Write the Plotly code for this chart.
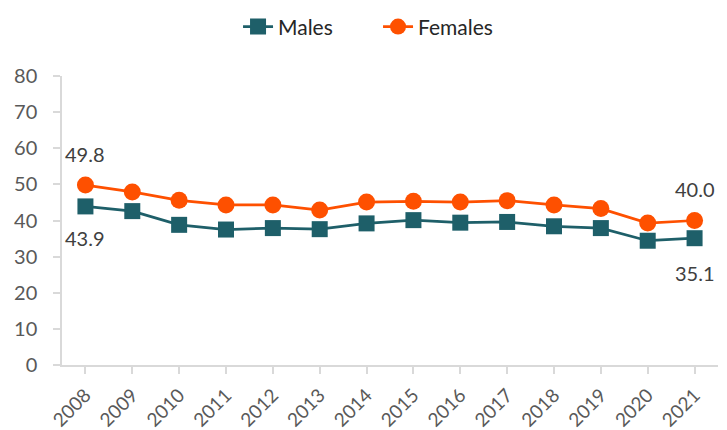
import plotly.graph_objects as go

years = ["2008", "2009", "2010", "2011", "2012", "2013", "2014",
         "2015", "2016", "2017", "2018", "2019", "2020", "2021"]
males = [43.9, 42.6, 38.8, 37.5, 37.9, 37.6, 39.2, 40.1, 39.4, 39.6, 38.4, 37.9, 34.4, 35.1]
females = [49.8, 47.9, 45.6, 44.3, 44.3, 42.9, 45.1, 45.3, 45.1, 45.5, 44.3, 43.3, 39.3, 40.0]
y_ticks = [0, 10, 20, 30, 40, 50, 60, 70, 80]

MALE_COLOR = "#1E5F69"
FEMALE_COLOR = "#FE5000"
FONT = "Lato"
TEXT_COLOR = "#595959"
AXIS_COLOR = "#D9D9D9"

fig = go.Figure()
fig.add_trace(go.Scatter(
    x=years, y=males, name="Males", mode="lines+markers",
    line=dict(color=MALE_COLOR, width=2.75),
    marker=dict(symbol="square", size=16, color=MALE_COLOR),
))
fig.add_trace(go.Scatter(
    x=years, y=females, name="Females", mode="lines+markers",
    line=dict(color=FEMALE_COLOR, width=2.75),
    marker=dict(symbol="circle", size=17, color=FEMALE_COLOR),
))

# data labels for first and last points (x given as category index)
first, last = 0, len(years) - 1
ann = [
    (first, females[first], 31),
    (first, males[first], -32),
    (last, females[last], 32),
    (last, males[last], -35),
]
for x, y, dy in ann:
    fig.add_annotation(x=x, y=y, xref="x", yref="y", text=f"{y:.1f}", showarrow=False,
                       yshift=dy, font=dict(family=FONT, size=20, color="#404040"))

fig.update_layout(
    width=727, height=430,
    margin=dict(l=62, r=9, t=76, b=65),
    plot_bgcolor="white", paper_bgcolor="white",
    font=dict(family=FONT, size=20, color=TEXT_COLOR),
    showlegend=True,
    legend=dict(orientation="h", x=0.52, xref="container", xanchor="center",
                y=0.985, yref="container", yanchor="top",
                entrywidth=95, entrywidthmode="pixels",
                font=dict(family=FONT, size=21, color="#262626")),
)
fig.update_xaxes(
    type="category", categoryorder="array", categoryarray=years,
    range=[-0.5, len(years) - 0.5], autorange=False, automargin=False,
    showline=True, linecolor=AXIS_COLOR, linewidth=1.5,
    ticks="outside", ticklen=7, tickcolor=AXIS_COLOR, tickwidth=1.5,
    tickangle=-45, showgrid=False, zeroline=False, ticklabelstandoff=3,
    tickfont=dict(family=FONT, size=19, color=TEXT_COLOR),
)
fig.update_yaxes(
    range=[0, 80], tickvals=y_ticks, automargin=False,
    showline=True, linecolor=AXIS_COLOR, linewidth=1.5,
    ticks="outside", ticklen=7, tickcolor=AXIS_COLOR, tickwidth=1.5,
    showgrid=False, zeroline=False, ticklabelstandoff=12,
    tickfont=dict(family=FONT, size=20, color=TEXT_COLOR),
)

fig.write_html("out.html", config={"displayModeBar": False},
               post_script="document.body.style.margin='0';")
